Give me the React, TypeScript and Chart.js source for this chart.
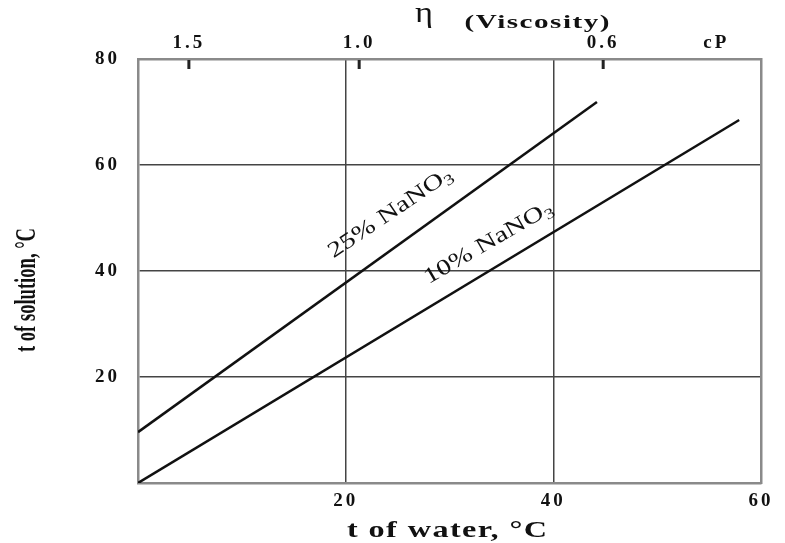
import React, { useEffect, useRef } from "react";
import { Chart, registerables } from "chart.js";

Chart.register(...registerables);

// ---- data ----
const water25 = [0, 44.2];
const solution25 = [9.6, 71.9];
const water10 = [0, 57.9];
const solution10 = [0, 68.5];

const xTickValues = [20, 40, 60];
const yTickValues = [20, 40, 60, 80];
const viscosityPositions = [4.9, 21.3, 44.8, 55.7];
const viscosityLabels = ["1.5", "1.0", "0.6", "cP"];

const curveLabels = ["25% NaNO", "10% NaNO"];
const curveLabelX = [24.3, 33.75];
const curveLabelY = [50.9, 45.3];
const curveLabelAngle = [-34, -30];

type Part = { text: string; font: string; dy?: number };

function drawStretched(
  ctx: CanvasRenderingContext2D,
  parts: Part[],
  cx: number,
  cy: number,
  angleDeg: number,
  targetWidth?: number,
  spacing = 0
) {
  ctx.save();
  ctx.letterSpacing = spacing + "px";
  let total = 0;
  const widths = parts.map((p) => {
    ctx.font = p.font;
    const w = ctx.measureText(p.text).width;
    total += w;
    return w;
  });
  total -= spacing;
  const sx = targetWidth ? targetWidth / total : 1;
  ctx.translate(cx, cy);
  ctx.rotate((angleDeg * Math.PI) / 180);
  ctx.scale(sx, 1);
  ctx.fillStyle = "#111";
  ctx.textBaseline = "middle";
  ctx.textAlign = "left";
  let x = -total / 2;
  parts.forEach((p, i) => {
    ctx.font = p.font;
    ctx.fillText(p.text, x, p.dy || 0);
    x += widths[i];
  });
  ctx.restore();
}

const decorPlugin = {
  id: "decor",
  beforeDraw(chart: any) {
    chart.ctx.letterSpacing = "3px";
  },
  afterDraw(chart: any) {
    const ctx = chart.ctx as CanvasRenderingContext2D;
    ctx.letterSpacing = "0px";
    const area = chart.chartArea;
    const top = chart.scales.x2;
    const xs = chart.scales.x;
    const ys = chart.scales.y;

    // inward viscosity tick marks
    ctx.save();
    ctx.strokeStyle = "#222";
    ctx.lineWidth = 3;
    viscosityPositions.forEach((v, i) => {
      if (viscosityLabels[i] === "cP") return;
      const px = top.getPixelForValue(v);
      ctx.beginPath();
      ctx.moveTo(px, area.top + 1);
      ctx.lineTo(px, area.top + 10);
      ctx.stroke();
    });
    ctx.restore();

    // axis titles
    drawStretched(
      ctx,
      [{ text: "t of solution, °C", font: "bold 30px 'Liberation Serif'" }],
      27,
      290,
      -90,
      124
    );
    drawStretched(
      ctx,
      [{ text: "t of water, °C", font: "bold 23px 'Liberation Serif'" }],
      447,
      531,
      0,
      200,
      1
    );
    drawStretched(
      ctx,
      [{ text: "η", font: "30px 'Liberation Serif'" }],
      424,
      14,
      0,
      18
    );
    drawStretched(
      ctx,
      [{ text: "(Viscosity)", font: "bold 19px 'Liberation Serif'" }],
      537,
      23,
      0,
      145,
      1
    );

    // curve labels
    curveLabels.forEach((t, i) => {
      drawStretched(
        ctx,
        [
          { text: t, font: "22px 'Liberation Serif'" },
          { text: "3", font: "15px 'Liberation Serif'", dy: 6 },
        ],
        xs.getPixelForValue(curveLabelX[i]),
        ys.getPixelForValue(curveLabelY[i]),
        curveLabelAngle[i],
        145
      );
    });
  },
};

export default function App() {
  const ref = useRef<HTMLCanvasElement | null>(null);

  useEffect(() => {
    document.body.style.margin = "0";
    const canvas = ref.current!;
    const tickFont = { family: "Liberation Serif", size: 19, weight: 700 };
    const gridColor = "#444";
    const borderColor = "#8a8a8a";

    const chart = new Chart(canvas, {
      type: "scatter",
      data: {
        datasets: [
          {
            label: "25% NaNO3",
            data: water25.map((x, i) => ({ x, y: solution25[i] })),
            showLine: true,
            borderColor: "#111",
            borderWidth: 2.5,
            pointRadius: 0,
            xAxisID: "x",
            yAxisID: "y",
          },
          {
            label: "10% NaNO3",
            data: water10.map((x, i) => ({ x, y: solution10[i] })),
            showLine: true,
            borderColor: "#111",
            borderWidth: 2.5,
            pointRadius: 0,
            xAxisID: "x",
            yAxisID: "y",
          },
        ],
      },
      options: {
        animation: false,
        responsive: false,
        maintainAspectRatio: false,
        layout: { padding: { left: 0, right: 24, top: 0, bottom: 0 } },
        plugins: { legend: { display: false }, tooltip: { enabled: false } },
        scales: {
          x: {
            type: "linear",
            position: "bottom",
            min: 0,
            max: 60,
            afterBuildTicks: (s: any) => {
              s.ticks = xTickValues.map((v) => ({ value: v }));
            },
            afterFit: (s: any) => {
              s.height = 60;
            },
            ticks: { font: tickFont, color: "#111", padding: 7, maxRotation: 0, autoSkip: false },
            grid: { color: gridColor, lineWidth: 1.5, drawTicks: false },
            border: { display: true, color: borderColor, width: 2.5 },
          },
          x2: {
            type: "linear",
            position: "top",
            min: 0,
            max: 60,
            afterBuildTicks: (s: any) => {
              s.ticks = viscosityPositions.map((v) => ({ value: v }));
            },
            afterFit: (s: any) => {
              s.height = 59;
            },
            ticks: {
              font: tickFont,
              color: "#111",
              padding: 5,
              maxRotation: 0,
              autoSkip: false,
              callback: (_v: any, i: number) => viscosityLabels[i],
            },
            grid: { display: false, drawTicks: false },
            border: { display: true, color: borderColor, width: 2.5 },
          },
          y: {
            type: "linear",
            position: "left",
            min: 0,
            max: 80,
            afterBuildTicks: (s: any) => {
              s.ticks = yTickValues.map((v) => ({ value: v }));
            },
            afterFit: (s: any) => {
              s.width = 138;
            },
            ticks: { font: tickFont, color: "#111", padding: 18, autoSkip: false },
            grid: { color: gridColor, lineWidth: 1.5, drawTicks: false },
            border: { display: true, color: borderColor, width: 2.5 },
          },
          y2: {
            type: "linear",
            position: "right",
            min: 0,
            max: 80,
            afterFit: (s: any) => {
              s.width = 0;
            },
            ticks: { display: false },
            grid: { display: false, drawTicks: false },
            border: { display: true, color: borderColor, width: 2.5 },
          },
        },
      },
      plugins: [decorPlugin],
    });
    return () => chart.destroy();
  }, []);

  return (
    <div style={{ position: "absolute", left: 0, top: 0, width: 785, height: 543, background: "#fff" }}>
      <canvas ref={ref} width={785} height={543} style={{ width: 785, height: 543, display: "block" }} />
    </div>
  );
}
